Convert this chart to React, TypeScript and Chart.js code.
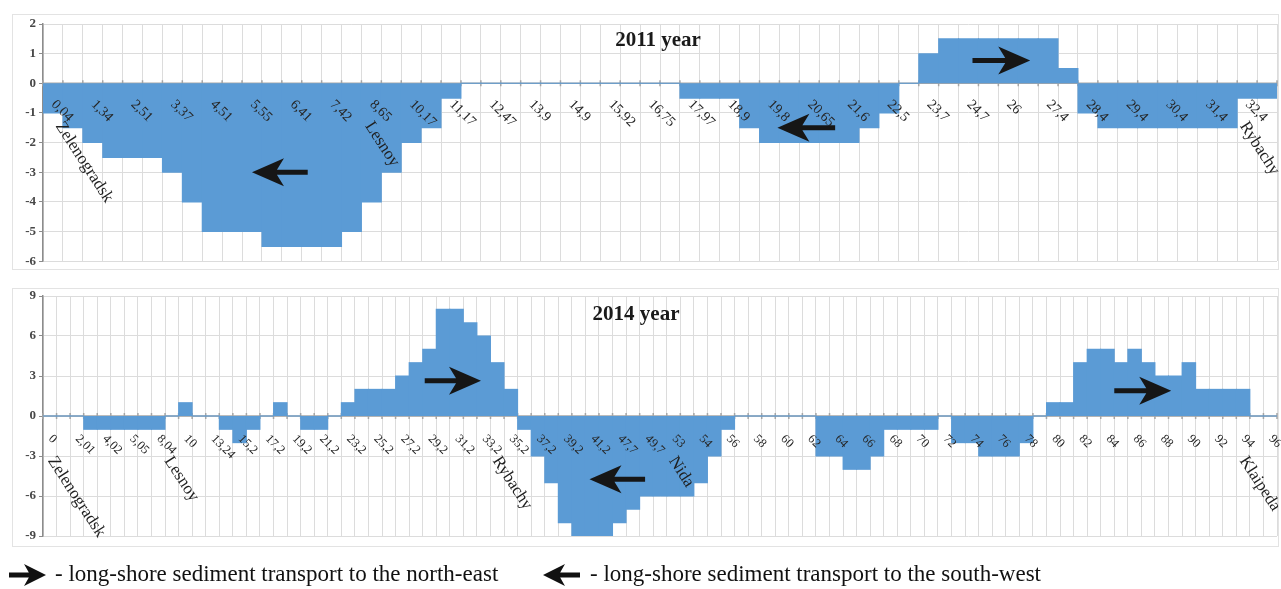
import React, { useEffect, useRef } from 'react';
import { Chart, registerables } from 'chart.js';

Chart.register(...registerables);

const FONT = "'Liberation Serif', 'Times New Roman', serif";
Chart.defaults.font.family = FONT;

// ---------- 2011 ----------
const tickLabels2011 = ['0,04', '1,34', '2,51', '3,37', '4,51', '5,55', '6,41', '7,42', '8,65', '10,17', '11,17', '12,47', '13,9', '14,9', '15,92', '16,75', '17,97', '18,9', '19,8', '20,65', '21,6', '22,5', '23,7', '24,7', '26', '27,4', '28,4', '29,4', '30,4', '31,4', '32,4'];
const values2011 = [
  -1, -1.5, -2, -2.5, -2.5, -2.5, -3, -4, -5, -5,
  -5, -5.5, -5.5, -5.5, -5.5, -5, -4, -3, -2, -1.5,
  -0.5, 0, 0, 0, 0, 0, 0, 0, 0, 0,
  0, 0, -0.5, -0.5, -0.5, -1.5, -2, -2, -2, -2,
  -2, -1.5, -1, 0, 1, 1.5, 1.5, 1.5, 1.5, 1.5,
  1.5, 0.5, -1, -1.5, -1.5, -1.5, -1.5, -1.5, -1.5, -1.5,
  -0.5, -0.5,
];
const towns2011 = ['Zelenogradsk', 'Lesnoy', 'Rybachy'];
const townPos2011 = [0.3, 15.85, 59.8];
// arrows: tail index, tip index, value
const arrowTail2011 = [12.8, 39.3, 46.2];
const arrowTip2011 = [10.0, 36.4, 49.1];
const arrowY2011 = [-3, -1.5, 0.77];

// ---------- 2014 ----------
const tickLabels2014 = ['0', '2,01', '4,02', '5,05', '8,04', '10', '13,24', '15,2', '17,2', '19,2', '21,2', '23,2', '25,2', '27,2', '29,2', '31,2', '33,2', '35,2', '37,2', '39,2', '41,2', '47,7', '49,7', '53', '54', '56', '58', '60', '62', '64', '66', '68', '70', '72', '74', '76', '78', '80', '82', '84', '86', '88', '90', '92', '94', '96'];
const values2014 = [
  0, 0, 0, -1, -1, -1, -1, -1, -1, 0,
  1, 0, 0, -1, -2, -1, 0, 1, 0, -1,
  -1, 0, 1, 2, 2, 2, 3, 4, 5, 8,
  8, 7, 6, 4, 2, -1, -3, -5, -8, -9,
  -9, -9, -8, -7, -6, -6, -6, -6, -5, -3,
  -1, 0, 0, 0, 0, 0, 0, -3, -3, -4,
  -4, -3, -1, -1, -1, -1, 0, -2, -2, -3,
  -3, -3, -2, 0, 1, 1, 4, 5, 5, 4,
  5, 4, 3, 3, 4, 2, 2, 2, 2, 0,
  0,
];
const towns2014 = ['Zelenogradsk', 'Lesnoy', 'Rybachy', 'Nida', 'Klaipeda'];
const townPos2014 = [0.1, 8.7, 32.9, 45.9, 88.0];
const arrowTail2014 = [27.65, 43.9, 78.5];
const arrowTip2014 = [31.8, 39.8, 82.7];
const arrowY2014 = [2.65, -4.75, 1.9];

const legendTexts = [
  '- long-shore sediment transport to the north-east',
  '- long-shore sediment transport to the south-west',
];

function buildCategories(tickLabels: string[], n: number): string[] {
  const out: string[] = [];
  for (let i = 0; i < n; i++) out.push(i % 2 === 0 ? (tickLabels[i / 2] ?? '') : '');
  return out;
}

function drawArrow(ctx: CanvasRenderingContext2D, xTail: number, xTip: number, y: number, headLen: number, headHalf: number, shaft: number) {
  const dir = xTip > xTail ? 1 : -1;
  const back = xTip - dir * headLen;
  const notch = xTip - dir * headLen * 0.78;
  ctx.beginPath();
  ctx.moveTo(xTail, y - shaft / 2);
  ctx.lineTo(notch, y - shaft / 2);
  ctx.lineTo(back, y - headHalf);
  ctx.lineTo(xTip, y);
  ctx.lineTo(back, y + headHalf);
  ctx.lineTo(notch, y + shaft / 2);
  ctx.lineTo(xTail, y + shaft / 2);
  ctx.closePath();
  ctx.fill();
}

interface Overlay {
  title: string;
  titleX: number;
  titleY: number;
  labelFont: number;
  labelDy: number;
  labelDx: number;
  towns: string[];
  townPos: number[];
  townDy: number;
  arrowTail: number[];
  arrowTip: number[];
  arrowY: number[];
  frameTop: number;
  frameBottom: number;
  legend?: boolean;
}

function makePlugin(o: Overlay) {
  return {
    id: 'overlay',
    beforeDraw(chart: any) {
      const ctx = chart.ctx as CanvasRenderingContext2D;
      ctx.save();
      ctx.strokeStyle = '#e3e3e3';
      ctx.lineWidth = 1;
      ctx.strokeRect(12.5, o.frameTop + 0.5, 1266, o.frameBottom - o.frameTop);
      ctx.restore();
    },
    beforeDatasetsDraw(chart: any) {
      const ctx = chart.ctx as CanvasRenderingContext2D;
      const xs = chart.scales.x;
      const ys = chart.scales.y;
      const y0 = ys.getPixelForValue(0);
      const n = chart.data.labels.length;
      const w = (xs.right - xs.left) / n;
      ctx.save();
      ctx.strokeStyle = '#a6a6a6';
      ctx.lineWidth = 1.5;
      ctx.beginPath();
      ctx.moveTo(xs.left, y0);
      ctx.lineTo(xs.right, y0);
      for (let k = 0; k <= n; k++) {
        const x = xs.left + k * w;
        ctx.moveTo(x, y0 - 3);
        ctx.lineTo(x, y0 + 3);
      }
      ctx.stroke();
      ctx.restore();
    },
    afterDatasetsDraw(chart: any) {
      const ctx = chart.ctx as CanvasRenderingContext2D;
      const xs = chart.scales.x;
      const ys = chart.scales.y;
      const y0 = ys.getPixelForValue(0);
      const n = chart.data.labels.length;
      const w = (xs.right - xs.left) / n;
      const posX = (i: number) => xs.left + (i + 0.5) * w;
      ctx.save();
      // category labels
      ctx.fillStyle = '#262626';
      ctx.font = `${o.labelFont}px ${FONT}`;
      ctx.textAlign = 'left';
      ctx.textBaseline = 'middle';
      chart.data.labels.forEach((lab: string, i: number) => {
        if (!lab) return;
        ctx.save();
        ctx.translate(posX(i) + o.labelDx, y0 + o.labelDy);
        ctx.rotate(Math.PI / 4);
        ctx.fillText(lab, 0, 0);
        ctx.restore();
      });
      // towns
      ctx.font = `17px ${FONT}`;
      ctx.fillStyle = '#1f1f1f';
      o.towns.forEach((t, i) => {
        ctx.save();
        ctx.translate(posX(o.townPos[i]), y0 + o.townDy);
        ctx.rotate((57 * Math.PI) / 180);
        ctx.fillText(t, 0, 0);
        ctx.restore();
      });
      // arrows
      ctx.fillStyle = '#161616';
      o.arrowTail.forEach((t, i) => {
        const y = ys.getPixelForValue(o.arrowY[i]);
        drawArrow(ctx, posX(t), posX(o.arrowTip[i]), y, 32, 14, 5);
      });
      // title
      ctx.font = `bold 21px ${FONT}`;
      ctx.fillStyle = '#1a1a1a';
      ctx.textAlign = 'center';
      ctx.fillText(o.title, o.titleX, o.titleY);
      // legend
      if (o.legend) {
        const ly = 295;
        ctx.fillStyle = '#111';
        drawArrow(ctx, 9, 46, ly, 22, 11, 5);
        drawArrow(ctx, 580, 543, ly, 22, 11, 5);
        ctx.font = `23px ${FONT}`;
        ctx.textAlign = 'left';
        ctx.fillStyle = '#111';
        ctx.fillText(legendTexts[0], 55, ly);
        ctx.fillText(legendTexts[1], 590, ly);
      }
      ctx.restore();
    },
  };
}

function makeConfig(categories: string[], values: number[], yMin: number, yMax: number, step: number, padding: any, plugin: any): any {
  return {
    type: 'bar',
    data: {
      labels: categories,
      datasets: [
        {
          data: values,
          backgroundColor: '#5b9bd5',
          borderWidth: 0,
          barPercentage: 1,
          categoryPercentage: 1,
          inflateAmount: 0.5,
        },
      ],
    },
    options: {
      responsive: false,
      animation: false,
      events: [],
      layout: { padding },
      plugins: { legend: { display: false }, tooltip: { enabled: false }, title: { display: false } },
      scales: {
        x: {
          grid: { color: '#dcdcdc', drawTicks: false, offset: true },
          border: { display: false },
          ticks: { display: false },
        },
        y: {
          min: yMin,
          max: yMax,
          ticks: { stepSize: step, font: { family: FONT, size: 13, weight: 'bold' }, color: '#474747', padding: 3 },
          grid: { color: '#dcdcdc', tickLength: 4, tickColor: '#8c8c8c' },
          border: { color: '#8c8c8c', width: 1.5 },
          afterFit: (s: any) => {
            s.width = 43;
          },
        },
      },
    },
    plugins: [plugin],
  };
}

export default function App() {
  const c1 = useRef<HTMLCanvasElement>(null);
  const c2 = useRef<HTMLCanvasElement>(null);

  useEffect(() => {
    const cats2011 = buildCategories(tickLabels2011, values2011.length);
    const cats2014 = buildCategories(tickLabels2014, values2014.length);
    const p1 = makePlugin({
      title: '2011 year', titleX: 658, titleY: 41,
      labelFont: 14, labelDy: 19, labelDx: 0.5,
      towns: towns2011, townPos: townPos2011, townDy: 40,
      arrowTail: arrowTail2011, arrowTip: arrowTip2011, arrowY: arrowY2011,
      frameTop: 14, frameBottom: 269,
    });
    const p2 = makePlugin({
      title: '2014 year', titleX: 636, titleY: 35,
      labelFont: 12.5, labelDy: 21, labelDx: 0.5,
      towns: towns2014, townPos: townPos2014, townDy: 42,
      arrowTail: arrowTail2014, arrowTip: arrowTip2014, arrowY: arrowY2014,
      frameTop: 8, frameBottom: 266,
      legend: true,
    });
    const ch1 = new Chart(c1.current as HTMLCanvasElement, makeConfig(cats2011, values2011, -6, 2, 1, { top: 24, bottom: 8, left: 0, right: 4 }, p1));
    const ch2 = new Chart(c2.current as HTMLCanvasElement, makeConfig(cats2014, values2014, -9, 9, 3, { top: 16, bottom: 53, left: 0, right: 4 }, p2));
    return () => {
      ch1.destroy();
      ch2.destroy();
    };
  }, []);

  return (
    <div style={{ position: 'fixed', left: 0, top: 0, width: 1281, height: 589, background: '#fff', overflow: 'hidden' }}>
      <canvas ref={c1} width={1281} height={272} style={{ position: 'absolute', left: 0, top: 0 }} />
      <canvas ref={c2} width={1281} height={309} style={{ position: 'absolute', left: 0, top: 280 }} />
    </div>
  );
}
